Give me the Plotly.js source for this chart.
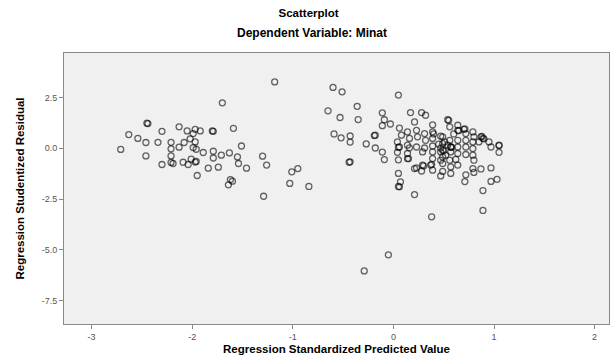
<!DOCTYPE html>
<html>
<head>
<meta charset="utf-8">
<script src="https://cdn.plot.ly/plotly-3.0.1.min.js"></script>
<style>html,body{margin:0;padding:0;background:#fff;}#chart{width:611px;height:356px;}</style>
</head>
<body>
<div id="chart"></div>
<script>
// Regression Standardized Predicted Value
const predicted = [
  -1.18,-1.70,-2.45,-2.44,-2.63,-2.54,-2.46,-2.71,-2.46,-2.30,-2.34,-2.21,-2.21,-2.21,-2.30,-2.21,-2.19,
  -2.13,-2.05,-2.13,-2.08,-2.02,-1.99,-1.97,-1.92,-1.97,-1.99,-1.96,-1.89,-2.09,-2.04,-2.01,-1.96,-1.97,
  -1.95,-1.80,-1.79,-1.59,-1.79,-1.79,-1.71,-1.63,-1.51,-1.55,-1.54,-1.46,-1.84,-1.74,-1.62,-1.64,-1.60,
  -1.30,-1.26,-1.29,-1.01,-0.95,-1.03,-0.84,-0.43,-0.44,
  -0.60,-0.51,0.05,-0.65,-0.36,-0.53,-0.35,-0.59,-0.52,-0.43,-0.43,-0.27,-0.18,-0.19,-0.18,-0.11,-0.09,
  -0.11,-0.09,-0.11,-0.03,
  -0.05,-0.29,0.38,0.89,0.89,0.21,0.05,0.06,0.07,0.05,0.97,1.03,
  0.17,0.28,0.32,0.21,0.39,0.54,0.55,
  0.06,0.14,0.23,0.31,0.39,0.47,0.08,0.16,0.24,0.32,0.39,0.51,0.04,0.05,0.06,0.14,0.23,0.31,0.39,0.47,0.54,
  0.39,0.47,0.52,0.04,0.14,0.29,0.05,0.14,0.39,0.47,0.29,0.23,0.37,0.28,0.39,0.49,0.47,
  0.56,0.64,0.64,0.65,0.70,0.71,0.72,0.79,0.80,0.87,0.88,0.89,0.90,0.95,1.05,1.05,1.05,0.97,0.85,0.79,0.72,
  0.64,0.49,0.56,0.57,0.49,0.57,0.58,0.64,0.72,0.79,0.49,0.50,0.57,0.64,0.72,0.79,0.49,0.56,0.49,0.57,
  0.64,0.80,0.57,0.79,0.87,0.97,0.72,0.80,0.71,0.30,0.38,0.21,0.15,0.16,0.40,0.45,0.60,0.62
];
// Regression Studentized Residual
const residual = [
  3.26,2.23,1.23,1.21,0.67,0.48,0.28,-0.06,-0.38,0.83,0.29,0.29,-0.03,-0.38,-0.80,-0.70,-0.75,
  1.05,0.85,0.05,0.28,0.46,0.72,0.93,0.85,0.31,0.03,-0.05,-0.21,-0.69,-0.80,-0.54,-0.65,-0.68,
  -1.34,0.85,0.83,0.98,-0.15,-0.48,-0.34,-0.23,0.11,-0.43,-0.75,-0.98,-0.98,-0.93,-1.54,-1.80,-1.62,
  -0.39,-0.83,-2.36,-1.16,-1.00,-1.73,-1.88,-0.67,-0.69,
  2.99,2.77,2.61,1.84,2.06,1.51,1.41,0.70,0.51,0.60,0.30,0.21,0.64,0.62,0.01,-0.19,-0.56,
  1.74,1.40,1.11,1.19,
  -5.24,-6.03,-3.37,-3.06,-2.08,-2.28,-1.88,-1.90,-1.65,-1.24,-1.63,-1.53,
  1.75,1.75,1.62,1.29,1.15,1.40,1.37,
  0.99,0.80,0.88,0.72,0.80,0.59,0.64,0.48,0.56,0.39,0.48,0.31,0.31,0.04,0.06,0.15,0.06,0.01,0.11,0.01,0.15,
  -0.18,-0.18,-0.34,-0.20,-0.26,-0.18,-0.57,-0.51,-0.51,-0.59,-0.83,-0.97,-0.83,-1.12,-1.08,-1.14,-1.36,
  1.05,1.13,0.88,0.86,0.93,0.95,0.72,0.80,0.56,0.56,0.58,0.48,0.46,0.31,0.13,0.15,-0.20,0.06,0.31,0.31,0.39,
  0.39,0.56,0.39,0.06,0.23,0.06,0.04,0.06,0.06,-0.02,-0.10,-0.12,-0.18,-0.26,-0.31,-0.34,-0.43,-0.59,-0.75,-0.92,
  -0.83,-0.59,-1.24,-1.00,-1.02,-0.97,-1.31,-1.19,-1.64,-0.87,-0.79,-1.00,-0.51,0.02,0.70,0.20,0.70,-0.55
];
const xTicks = [-3,-2,-1,0,1,2];
const yTicks = [2.5,0.0,-2.5,-5.0,-7.5];
const yTickText = ["2.5","0.0","-2.5","-5.0","-7.5"];

const trace = {
  type: 'scatter', mode: 'markers',
  x: predicted, y: residual,
  marker: {symbol: 'circle-open', size: 6, color: 'rgba(0,0,0,0.6)', line: {width: 1.3, color: 'rgba(0,0,0,0.6)'}},
  hoverinfo: 'x+y'
};

const axisCommon = {
  showgrid: false, zeroline: false, showline: true, linecolor: '#8a8a8a', linewidth: 1,
  ticks: 'outside', ticklen: 4, tickcolor: '#8a8a8a', tickwidth: 1, mirror: true,
  tickfont: {family: 'Liberation Sans, Arial, sans-serif', size: 9, color: '#555'}
};

const layout = {
  width: 611, height: 356,
  margin: {l: 64, r: 2, t: 53, b: 32},
  paper_bgcolor: '#ffffff', plot_bgcolor: '#f0f0f0',
  showlegend: false,
  title: {text: '<b>Scatterplot</b>', x: 0.505, xanchor: 'center', y: 0.963, yanchor: 'middle',
          font: {family: 'Liberation Sans, Arial, sans-serif', size: 11.5, color: '#000'}},
  annotations: [{
    text: '<b>Dependent Variable: Minat</b>', xref: 'paper', yref: 'paper', showarrow: false,
    x: 0.455, y: 1.0, xanchor: 'center', yanchor: 'bottom', yshift: 11,
    font: {family: 'Liberation Sans, Arial, sans-serif', size: 12, color: '#000'}
  }],
  xaxis: Object.assign({}, axisCommon, {
    range: [-3.274, 2.143], tickvals: xTicks, ticktext: xTicks.map(String),
    title: {text: '<b>Regression Standardized Predicted Value</b>', standoff: 4,
            font: {family: 'Liberation Sans, Arial, sans-serif', size: 11.5, color: '#000'}}
  }),
  yaxis: Object.assign({}, axisCommon, {
    range: [-8.64, 4.68], tickvals: yTicks, ticktext: yTickText,
    title: {text: '<b>Regression Studentized Residual</b>', standoff: 14,
            font: {family: 'Liberation Sans, Arial, sans-serif', size: 11.5, color: '#000'}}
  })
};

Plotly.newPlot('chart', [trace], layout, {displayModeBar: false, staticPlot: true});
</script>
</body>
</html>
